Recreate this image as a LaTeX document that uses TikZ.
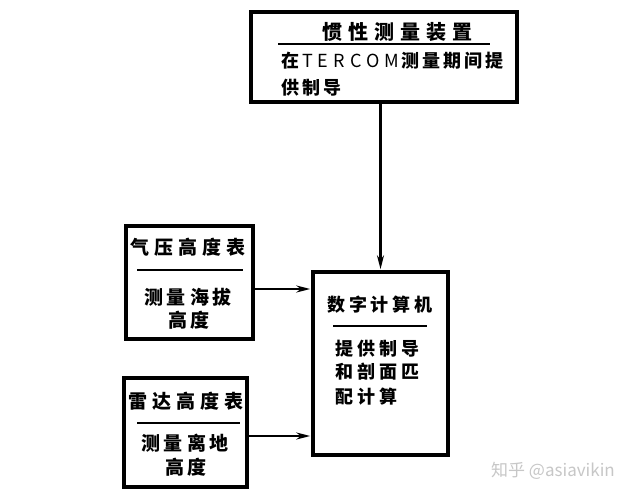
\documentclass[tikz,border=0pt]{standalone}
\usepackage{fontspec}
\newfontfamily\cjk{Noto Sans CJK SC}
\usetikzlibrary{arrows.meta}
\makeatletter
\newcommand\spc[2]{\@tfor\spctok:=#2\do{\spctok\hspace{#1}}\unskip}
\makeatother
\tikzset{
  box/.style={draw, line width=3.5pt, rectangle, inner sep=0pt},
  txt/.style={font=\cjk\bfseries\fontsize{18}{22}\selectfont, inner sep=0pt, anchor=west},
  ttl/.style={font=\cjk\bfseries\fontsize{19}{22}\selectfont, inner sep=0pt},
  rule/.style={line width=2.5pt},
  conn/.style={line width=2.2pt, -{Stealth[length=14pt,width=7pt]}, shorten >=1pt},
}
\begin{document}
\begin{tikzpicture}[x=1pt,y=-1pt]
\useasboundingbox[fill=white] (0,0) rectangle (634,502);
% top box
\node[box, minimum width=266pt, minimum height=90pt] (imu) at (384,57) {};
\node[ttl, font=\cjk\bfseries\fontsize{20}{22}\selectfont] (imut) at (397,32) {\spc{6pt}{惯性测量装置}};
\draw[rule] (278,44) -- (490,44);
\node[txt] (imu1) at (281,61) {\spc{3pt}{在}\hspace{3pt}{\mdseries\spc{5pt}{TERCOM}}\hspace{2pt}\spc{3pt}{测量期间提}};
\node[txt] (imu2) at (281,88) {\spc{3pt}{供制导}};
% barometric
\node[box, minimum width=127pt, minimum height=113pt] (baro) at (189.5,282.5) {};
\node[ttl] (barot) at (188,247) {\spc{5pt}{气压高度表}};
\draw[rule] (137,270) -- (243,270);
\node[ttl] (baro1) at (188,297) {\spc{4pt}{测量海拔}};
\node[ttl] (baro2) at (189,320) {\spc{4pt}{高度}};
% radar
\node[box, minimum width=123pt, minimum height=109pt] (radar) at (185.5,432.5) {};
\node[ttl] (radart) at (186,401) {\spc{5pt}{雷达高度表}};
\draw[rule] (137,423) -- (240,423);
\node[ttl] (radar1) at (185,443) {\spc{4pt}{测量离地}};
\node[ttl] (radar2) at (186,467) {\spc{4pt}{高度}};
% computer
\node[box, minimum width=135pt, minimum height=183pt] (comp) at (380.5,363.5) {};
\node[ttl, font=\cjk\bfseries\fontsize{18}{22}\selectfont] (compt) at (380,305) {\spc{4pt}{数字计算机}};
\draw[rule] (333,326) -- (427,326);
\node[txt] (comp1) at (335,349) {\spc{4pt}{提供制导}};
\node[txt] (comp2) at (335,372) {\spc{4pt}{和剖面匹}};
\node[txt] (comp3) at (335,397) {\spc{4pt}{配计算}};
% connectors
\draw[conn] (imu.south -| comp.north) -- (comp.north);
\draw[conn] (baro.east |- 0,289) -- (comp.west |- 0,289);
\draw[conn] (radar.east |- 0,436) -- (comp.west |- 0,436);
% watermark
\node[font=\cjk\fontsize{17}{19}\selectfont, text=black!22, anchor=west, inner sep=0pt] (wm) at (491,471) {知乎 @asiavikin};
\end{tikzpicture}
\end{document}
